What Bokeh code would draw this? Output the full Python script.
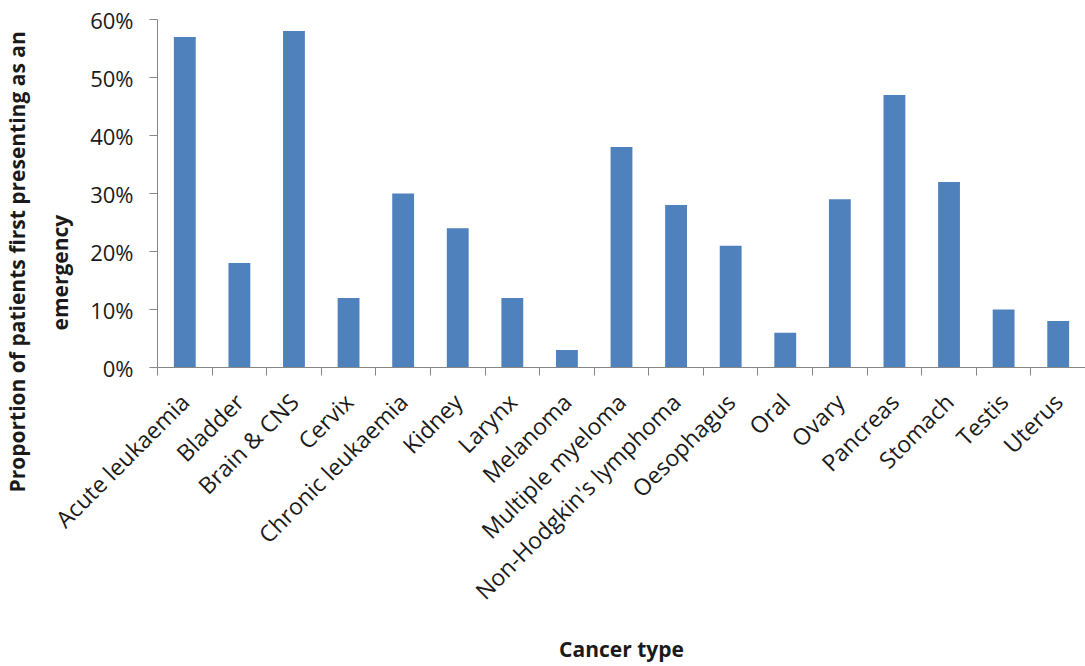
import math
from bokeh.plotting import figure
from bokeh.models import (ColumnDataSource, FactorRange, Range1d, LinearAxis,
                          CategoricalAxis, FixedTicker, NumeralTickFormatter, Title)
from bokeh.embed import file_html
from bokeh.resources import INLINE

# Share of patients whose cancer was first diagnosed after an emergency presentation
cancer_types = [
    "Acute leukaemia", "Bladder", "Brain & CNS", "Cervix", "Chronic leukaemia",
    "Kidney", "Larynx", "Melanoma", "Multiple myeloma", "Non-Hodgkin's lymphoma",
    "Oesophagus", "Oral", "Ovary", "Pancreas", "Stomach", "Testis", "Uterus",
]
emergency_pct = [57, 18, 58, 12, 30, 24, 12, 3, 38, 28, 21, 6, 29, 47, 32, 10, 8]
y_ticks_pct = [0, 10, 20, 30, 40, 50, 60]

FONT = "Open Sans"
AXIS_GREY = "#868686"
BAR_BLUE = "#4F81BD"
TEXT = "#1a1a1a"

source = ColumnDataSource(data=dict(
    cancer=cancer_types,
    share=[v / 100 for v in emergency_pct],
))

p = figure(
    width=1085, height=666,
    x_range=FactorRange(factors=cancer_types, range_padding=0),
    y_range=Range1d(0, max(y_ticks_pct) / 100),
    x_axis_location=None,
    output_backend="svg", toolbar_location=None,
    min_border_left=157, min_border_right=0, min_border_top=19, min_border_bottom=299,
)
p.outline_line_color = None
p.xgrid.visible = False
p.ygrid.visible = False

p.vbar(x="cancer", top="share", width=0.4, source=source,
       fill_color=BAR_BLUE, line_color=None)

# Y axis: percentages with outward ticks
yax = p.yaxis[0]
yax.ticker = FixedTicker(ticks=[t / 100 for t in y_ticks_pct], minor_ticks=[])
yax.formatter = NumeralTickFormatter(format="0%")
yax.axis_line_color = AXIS_GREY
yax.major_tick_line_color = AXIS_GREY
yax.major_tick_in = 0
yax.major_tick_out = 8
yax.minor_tick_line_color = None
yax.major_label_text_font = FONT
yax.major_label_text_font_size = "22px"
yax.major_label_text_color = TEXT
yax.major_label_standoff = 16

# X axis line with ticks on the boundaries between categories
# (the factor range places category edges at whole numbers)
tick_axis = LinearAxis()
tick_axis.ticker = FixedTicker(ticks=list(range(len(cancer_types) + 1)), minor_ticks=[])
tick_axis.axis_line_color = AXIS_GREY
tick_axis.major_tick_line_color = AXIS_GREY
tick_axis.major_tick_in = 0
tick_axis.major_tick_out = 8
tick_axis.minor_tick_line_color = None
tick_axis.major_label_text_font_size = "0px"
tick_axis.major_label_standoff = 0

# Category names, rotated, with the axis title underneath
cat_axis = CategoricalAxis()
cat_axis.axis_line_color = None
cat_axis.major_tick_line_color = None
cat_axis.major_label_orientation = math.pi / 4
cat_axis.major_label_text_font = FONT
cat_axis.major_label_text_font_size = "23px"
cat_axis.major_label_text_color = TEXT
cat_axis.major_label_standoff = 16
cat_axis.axis_label = "Cancer type"
cat_axis.axis_label_standoff = 15
cat_axis.axis_label_text_font = FONT
cat_axis.axis_label_text_font_size = "21px"
cat_axis.axis_label_text_font_style = "bold"
cat_axis.axis_label_text_color = TEXT

p.below = [tick_axis, cat_axis]

# Y axis title, two lines
def axis_title(text, standoff, offset):
    return Title(text=text, align="left", standoff=standoff, offset=offset,
                 text_font=FONT, text_font_size="21px", text_font_style="bold",
                 text_color=TEXT)

p.add_layout(axis_title("emergency", 27, offset=37), "left")
p.add_layout(axis_title("Proportion of patients first presenting as an", 0, offset=-125), "left")

open("out.html", "w").write(file_html(p, INLINE))
